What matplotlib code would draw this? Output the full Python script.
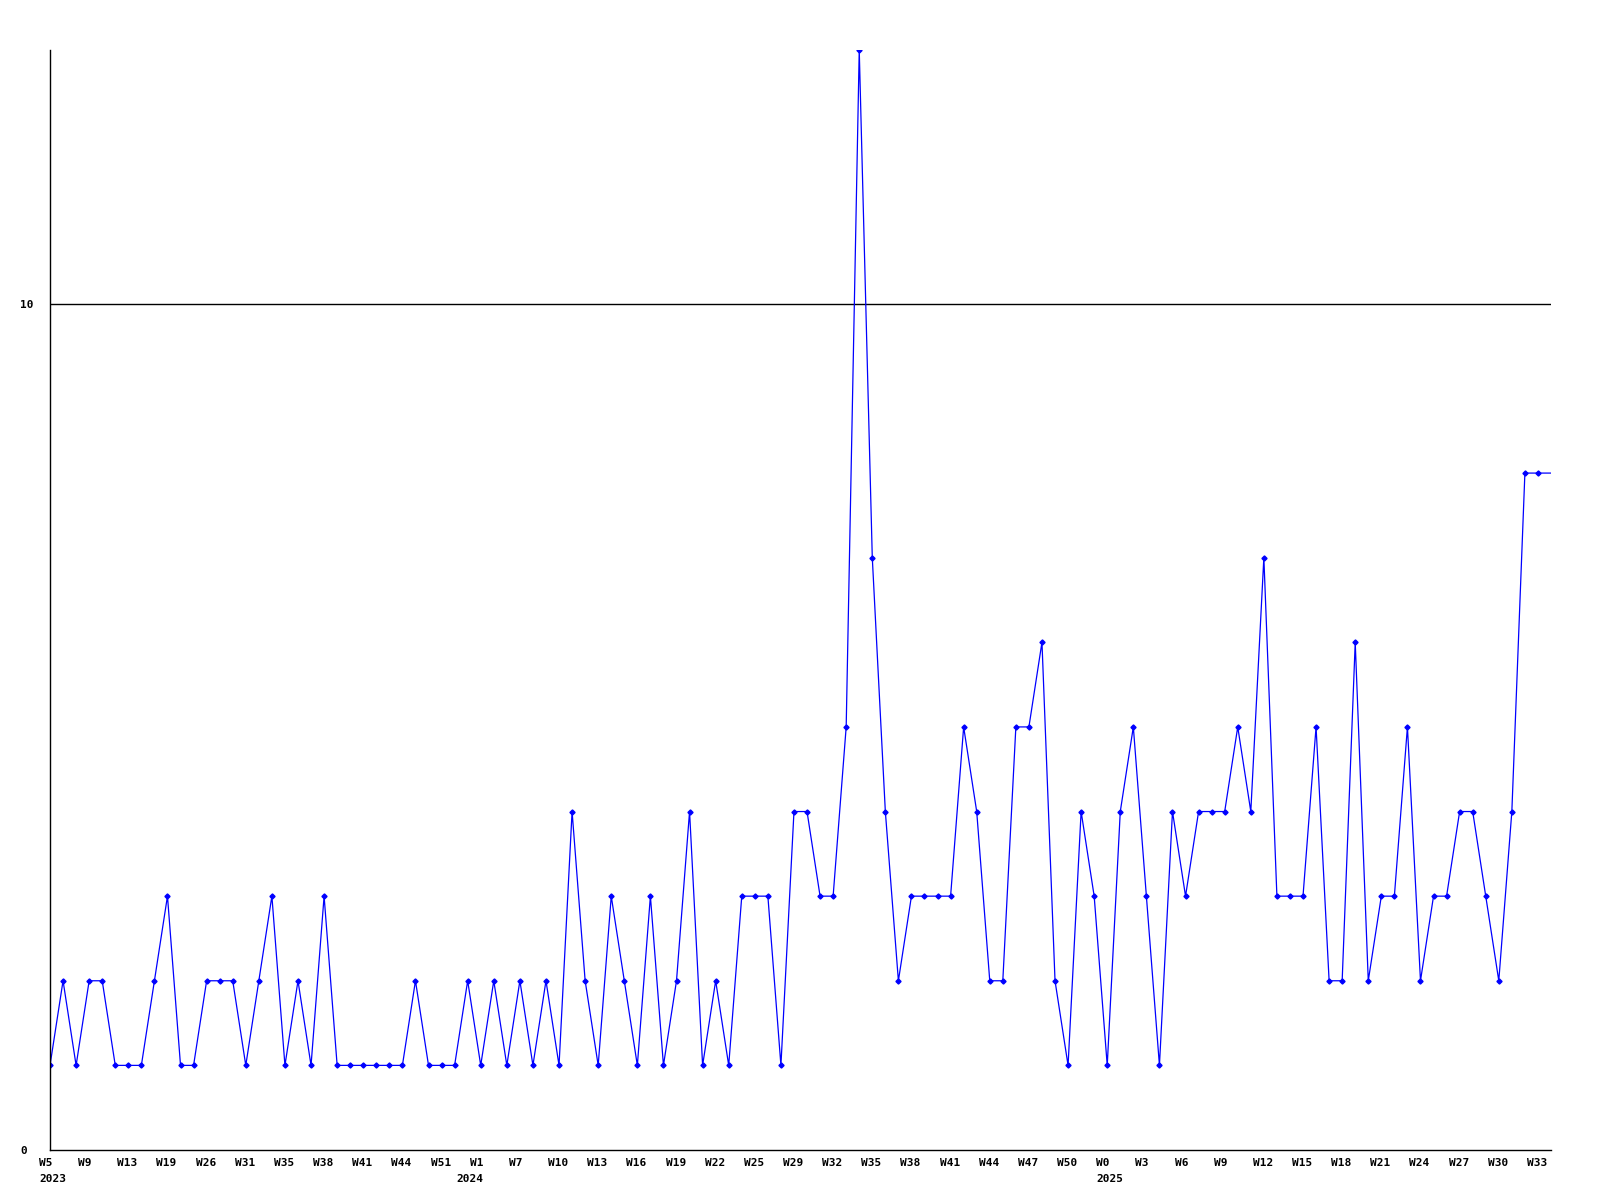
import matplotlib
matplotlib.use("Agg")
import matplotlib.pyplot as plt
import matplotlib.transforms as mtransforms

values = [1, 2, 1, 2, 2, 1, 1, 1, 2, 3, 1, 1, 2, 2, 2, 1, 2, 3, 1, 2,
          1, 3, 1, 1, 1, 1, 1, 1, 2, 1, 1, 1, 2, 1, 2, 1, 2, 1, 2, 1,
          4, 2, 1, 3, 2, 1, 3, 1, 2, 4, 1, 2, 1, 3, 3, 3, 1, 4, 4, 3,
          3, 5, 13, 7, 4, 2, 3, 3, 3, 3, 5, 4, 2, 2, 5, 5, 6, 2, 1, 4,
          3, 1, 4, 5, 3, 1, 4, 3, 4, 4, 4, 5, 4, 7, 3, 3, 3, 5, 2, 2,
          6, 2, 3, 3, 5, 2, 3, 3, 4, 4, 3, 2, 4, 8, 8, 8]

week_labels = ["W5", "W9", "W13", "W19", "W26", "W31", "W35", "W38", "W41", "W44",
               "W51", "W1", "W7", "W10", "W13", "W16", "W19", "W22", "W25", "W29",
               "W32", "W35", "W38", "W41", "W44", "W47", "W50", "W0", "W3", "W6",
               "W9", "W12", "W15", "W18", "W21", "W24", "W27", "W30", "W33"]
label_step = 3

# year label -> index of first point of that year
year_names = ["2023", "2024", "2025"]
year_positions = [0, 32, 81]

y_ticks = [0, 10]

fig = plt.figure(figsize=(16, 12), dpi=100)
ax = fig.add_axes([50 / 1600, 50 / 1200, 1501 / 1600, 1100 / 1200])

x = list(range(len(values)))
ax.plot(x, values, color="#0000ff", linewidth=0.9, marker="D", markersize=2.6,
        markevery=list(range(len(values) - 1)), clip_on=True)

ax.set_xlim(0, len(values) - 1)
ax.set_ylim(0, 13)

for s in ["top", "right"]:
    ax.spines[s].set_visible(False)
for s in ["left", "bottom"]:
    ax.spines[s].set_linewidth(1.0)
    ax.spines[s].set_color("black")

ax.axhline(10, color="black", linewidth=1.0, zorder=0)

font = dict(family="DejaVu Sans Mono", weight="bold", size=8)

ticks = [i * label_step for i in range(len(week_labels))]
ax.set_xticks(ticks)
ax.set_xticklabels(week_labels, fontdict=font)
ax.tick_params(axis="x", length=0, pad=6)
offset = mtransforms.ScaledTranslation(-11 / 100, 0, fig.dpi_scale_trans)
for lbl in ax.get_xticklabels():
    lbl.set_horizontalalignment("left")
    lbl.set_verticalalignment("top")
    lbl.set_transform(lbl.get_transform() + offset)

year_tr = (mtransforms.blended_transform_factory(ax.transData, ax.transAxes)
           + mtransforms.ScaledTranslation(-11 / 100, -23.5 / 100, fig.dpi_scale_trans))
for name, pos in zip(year_names, year_positions):
    ax.text(pos, 0, name, transform=year_tr, ha="left", va="top", **font)

ax.set_yticks(y_ticks)
ax.set_yticklabels([str(v) for v in y_ticks], fontdict=font)
ax.tick_params(axis="y", length=0, pad=21.6)
for lbl in ax.get_yticklabels():
    lbl.set_horizontalalignment("left")

fig.savefig("out.png", dpi=100, facecolor="white")
